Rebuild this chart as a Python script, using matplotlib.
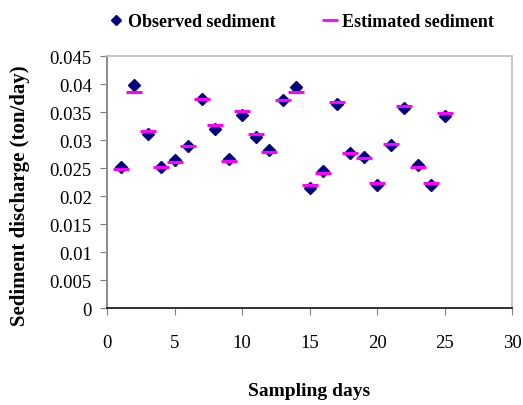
import numpy as np
import matplotlib.pyplot as plt

days = list(range(1, 26))
observed = [0.0251, 0.0398, 0.0311, 0.0252, 0.0265, 0.0289, 0.0374, 0.0320, 0.0266, 0.0345,
            0.0305, 0.0283, 0.0371, 0.0395, 0.0214, 0.0244, 0.0364, 0.0277, 0.0269, 0.0219,
            0.0291, 0.0357, 0.0256, 0.0220, 0.0342]
estimated = [0.0248, 0.0385, 0.0316, 0.0251, 0.0261, 0.0290, 0.0373, 0.0326, 0.0262, 0.0351,
             0.0310, 0.0279, 0.0371, 0.0385, 0.0220, 0.0241, 0.0367, 0.0276, 0.0268, 0.0224,
             0.0293, 0.0360, 0.0251, 0.0224, 0.0349]
x_ticks = [0, 5, 10, 15, 20, 25, 30]
y_ticks = [0, 0.005, 0.01, 0.015, 0.02, 0.025, 0.03, 0.035, 0.04, 0.045]
y_labels = ['0', '0.005', '0.01', '0.015', '0.02', '0.025', '0.03', '0.035', '0.04', '0.045']

plt.rcParams['font.family'] = ['Liberation Serif', 'DejaVu Serif']

fig = plt.figure(figsize=(5.23, 4.06), dpi=100)
ax = fig.add_axes([0.2046, 0.2389, 0.7744, 0.6207])

ax.plot(days, observed, linestyle='none', marker='D', markersize=6.5,
        color='#000080', label='Observed sediment')
ax.plot(days, estimated, linestyle='none', marker='_', markersize=12,
        markeredgewidth=2.2, color='#ff00ff', label='Estimated sediment')

ax.set_xlim(0, 30)
ax.set_ylim(0, 0.045)
ax.set_xticks(x_ticks)
ax.set_yticks(y_ticks)
ax.set_yticklabels(y_labels)
ax.tick_params(axis='x', labelsize=13.5, direction='out', length=5, pad=14, color='#808080')
ax.tick_params(axis='y', labelsize=13.5, direction='out', length=5, pad=6, color='#808080')

ax.spines['left'].set_color('#808080')
ax.spines['bottom'].set_color('#222222')
ax.spines['top'].set_color('#c0c0c0')
ax.spines['right'].set_color('#c0c0c0')
for s in ax.spines.values():
    s.set_linewidth(1.3)

ax.set_xlabel('Sampling days', fontsize=14, fontweight='bold', labelpad=22)
ax.set_ylabel('Sediment discharge (ton/day)', fontsize=15, fontweight='bold')
ax.yaxis.set_label_coords(-0.19, 0.45)

leg = ax.legend(loc='center', bbox_to_anchor=(0.577, 0.945), bbox_transform=fig.transFigure,
                ncol=2, frameon=False, prop={'weight': 'bold', 'size': 13},
                handlelength=0.7, handletextpad=0.35, columnspacing=2.63)
leg.legend_handles[0].set_markersize(5)
leg.legend_handles[1].set_markersize(11)
leg.legend_handles[1].set_markeredgewidth(2)

fig.savefig('out.png', dpi=100)
